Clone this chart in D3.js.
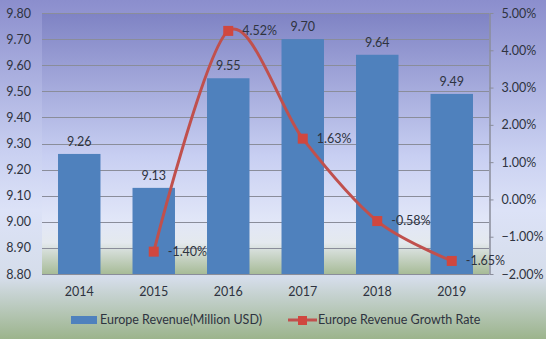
<!DOCTYPE html>
<html>
<head>
<meta charset="utf-8">
<script src="https://cdn.jsdelivr.net/npm/d3@7"></script>
<style>
  html, body { margin: 0; padding: 0; }
  svg { display: block; font-family: Lato, "Liberation Sans", sans-serif; }
</style>
</head>
<body>
<svg id="chart" width="546" height="339"></svg>
<script>
const years = ["2014", "2015", "2016", "2017", "2018", "2019"];
const revenue = [9.26, 9.13, 9.55, 9.70, 9.64, 9.49];
const growth = [null, -1.40, 4.52, 1.63, -0.58, -1.65];
const leftTicks = [8.80, 8.90, 9.00, 9.10, 9.20, 9.30, 9.40, 9.50, 9.60, 9.70, 9.80];
const rightTicks = [-2, -1, 0, 1, 2, 3, 4, 5];
const seriesNames = ["Europe Revenue(Million USD)", "Europe Revenue Growth Rate"];

const W = 546, H = 339;
const m = { left: 42, right: 489, top: 13, bottom: 274 };
const FS = 12.5;
const TXT = "#2e3340";
const svg = d3.select("#chart");
const defs = svg.append("defs");

// outer background: purple at top, pale blue in the middle, green at the bottom
const bg = defs.append("linearGradient").attr("id", "bg")
  .attr("x1", 0).attr("y1", 0).attr("x2", 0).attr("y2", 1);
[[0, "#8b8ecd"], [0.45, "#c9d0f1"], [0.62, "#dce2f7"], [0.82, "#d5ddea"], [1, "#9cb48c"]]
  .forEach(([o, c]) => bg.append("stop").attr("offset", o).attr("stop-color", c));

const pg = defs.append("linearGradient").attr("id", "plotbg")
  .attr("x1", 0).attr("y1", 0).attr("x2", 0).attr("y2", 1);
[[0, "#7f83c4"], [0.55, "#c8cff2"], [0.8, "#e2e7f8"], [0.88, "#e4e9ee"], [1, "#a7bb97"]]
  .forEach(([o, c]) => pg.append("stop").attr("offset", o).attr("stop-color", c));

svg.append("rect").attr("width", W).attr("height", H).attr("fill", "url(#bg)");
svg.append("rect").attr("x", m.left).attr("y", m.top)
  .attr("width", m.right - m.left).attr("height", m.bottom - m.top)
  .attr("fill", "url(#plotbg)");

const x = d3.scaleBand().domain(years).range([m.left, m.right]).paddingInner(0.43).paddingOuter(0.215);
const yL = d3.scaleLinear().domain([8.8, 9.8]).range([m.bottom, m.top]);
const yR = d3.scaleLinear().domain([-2, 5]).range([m.bottom, m.top]);
const cx = d => x(d) + x.bandwidth() / 2;

// gridlines
svg.append("g").selectAll("line").data(leftTicks).join("line")
  .attr("x1", m.left).attr("x2", m.right)
  .attr("y1", d => Math.round(yL(d)) + 0.5).attr("y2", d => Math.round(yL(d)) + 0.5)
  .attr("stroke", "#8a8d9a").attr("stroke-width", 1.2);

// left axis labels
const leftAxis = d3.axisLeft(yL).tickValues(leftTicks).tickFormat(d3.format(".2f")).tickSize(0).tickPadding(11);
const gl = svg.append("g").attr("transform", `translate(${m.left},0)`).call(leftAxis);
gl.select(".domain").remove();
gl.selectAll("text").attr("font-size", FS).attr("fill", TXT).attr("font-family", "Lato, sans-serif");

// right axis
const rightAxis = d3.axisRight(yR).tickValues(rightTicks).tickFormat(d => d3.format(".2f")(d) + "%").tickSize(4).tickSizeOuter(0).tickPadding(8);
const gr = svg.append("g").attr("transform", `translate(${m.right + 0.5},0)`).call(rightAxis);
gr.select(".domain").attr("stroke", "#8a8d9a").attr("stroke-width", 1.5);
gr.selectAll(".tick line").attr("stroke", "#8a8d9a");
gr.selectAll("text").attr("font-size", FS).attr("fill", TXT).attr("font-family", "Lato, sans-serif");

// bars
svg.append("g").selectAll("rect").data(revenue).join("rect")
  .attr("x", (d, i) => x(years[i]))
  .attr("width", x.bandwidth())
  .attr("y", d => yL(d))
  .attr("height", d => yL(8.8) - yL(d))
  .attr("fill", "#4f81bd");

svg.append("g").selectAll("text").data(revenue).join("text")
  .attr("x", (d, i) => cx(years[i]))
  .attr("y", d => yL(d) - 8)
  .attr("text-anchor", "middle")
  .attr("font-size", FS).attr("fill", TXT)
  .text(d => d.toFixed(2));

// growth line (smoothed)
const pts = growth.map((g, i) => ({ x: cx(years[i]), g })).filter(p => p.g !== null);
const line = d3.line().x(p => p.x).y(p => yR(p.g)).curve(d3.curveCardinal.tension(0.1));
svg.append("path").datum(pts).attr("d", line)
  .attr("fill", "none").attr("stroke", "#c0504d").attr("stroke-width", 3);

svg.append("g").selectAll("rect").data(pts).join("rect")
  .attr("x", p => p.x - 5).attr("y", p => yR(p.g) - 5)
  .attr("width", 10).attr("height", 10)
  .attr("fill", "#d0473f");

svg.append("g").selectAll("text").data(pts).join("text")
  .attr("x", p => p.x + 14).attr("y", p => yR(p.g))
  .attr("dy", "0.35em")
  .attr("font-size", FS).attr("fill", TXT)
  .text(p => p.g.toFixed(2) + "%");

// category labels
svg.append("g").selectAll("text").data(years).join("text")
  .attr("x", d => cx(d)).attr("y", 292).attr("dy", "0.35em")
  .attr("text-anchor", "middle").attr("font-size", FS).attr("fill", TXT)
  .text(d => d);

// legend
const lg = svg.append("g");
lg.append("rect").attr("x", 71).attr("y", 316).attr("width", 26).attr("height", 8).attr("fill", "#4f81bd");
lg.append("text").attr("x", 100).attr("y", 320).attr("dy", "0.35em")
  .attr("font-size", FS).attr("fill", TXT).text(seriesNames[0]);
lg.append("line").attr("x1", 288).attr("x2", 317).attr("y1", 320).attr("y2", 320)
  .attr("stroke", "#c0504d").attr("stroke-width", 3);
lg.append("rect").attr("x", 298).attr("y", 316).attr("width", 9).attr("height", 9).attr("fill", "#d0473f");
lg.append("text").attr("x", 318).attr("y", 320).attr("dy", "0.35em")
  .attr("font-size", FS).attr("fill", TXT).text(seriesNames[1]);
</script>
</body>
</html>
